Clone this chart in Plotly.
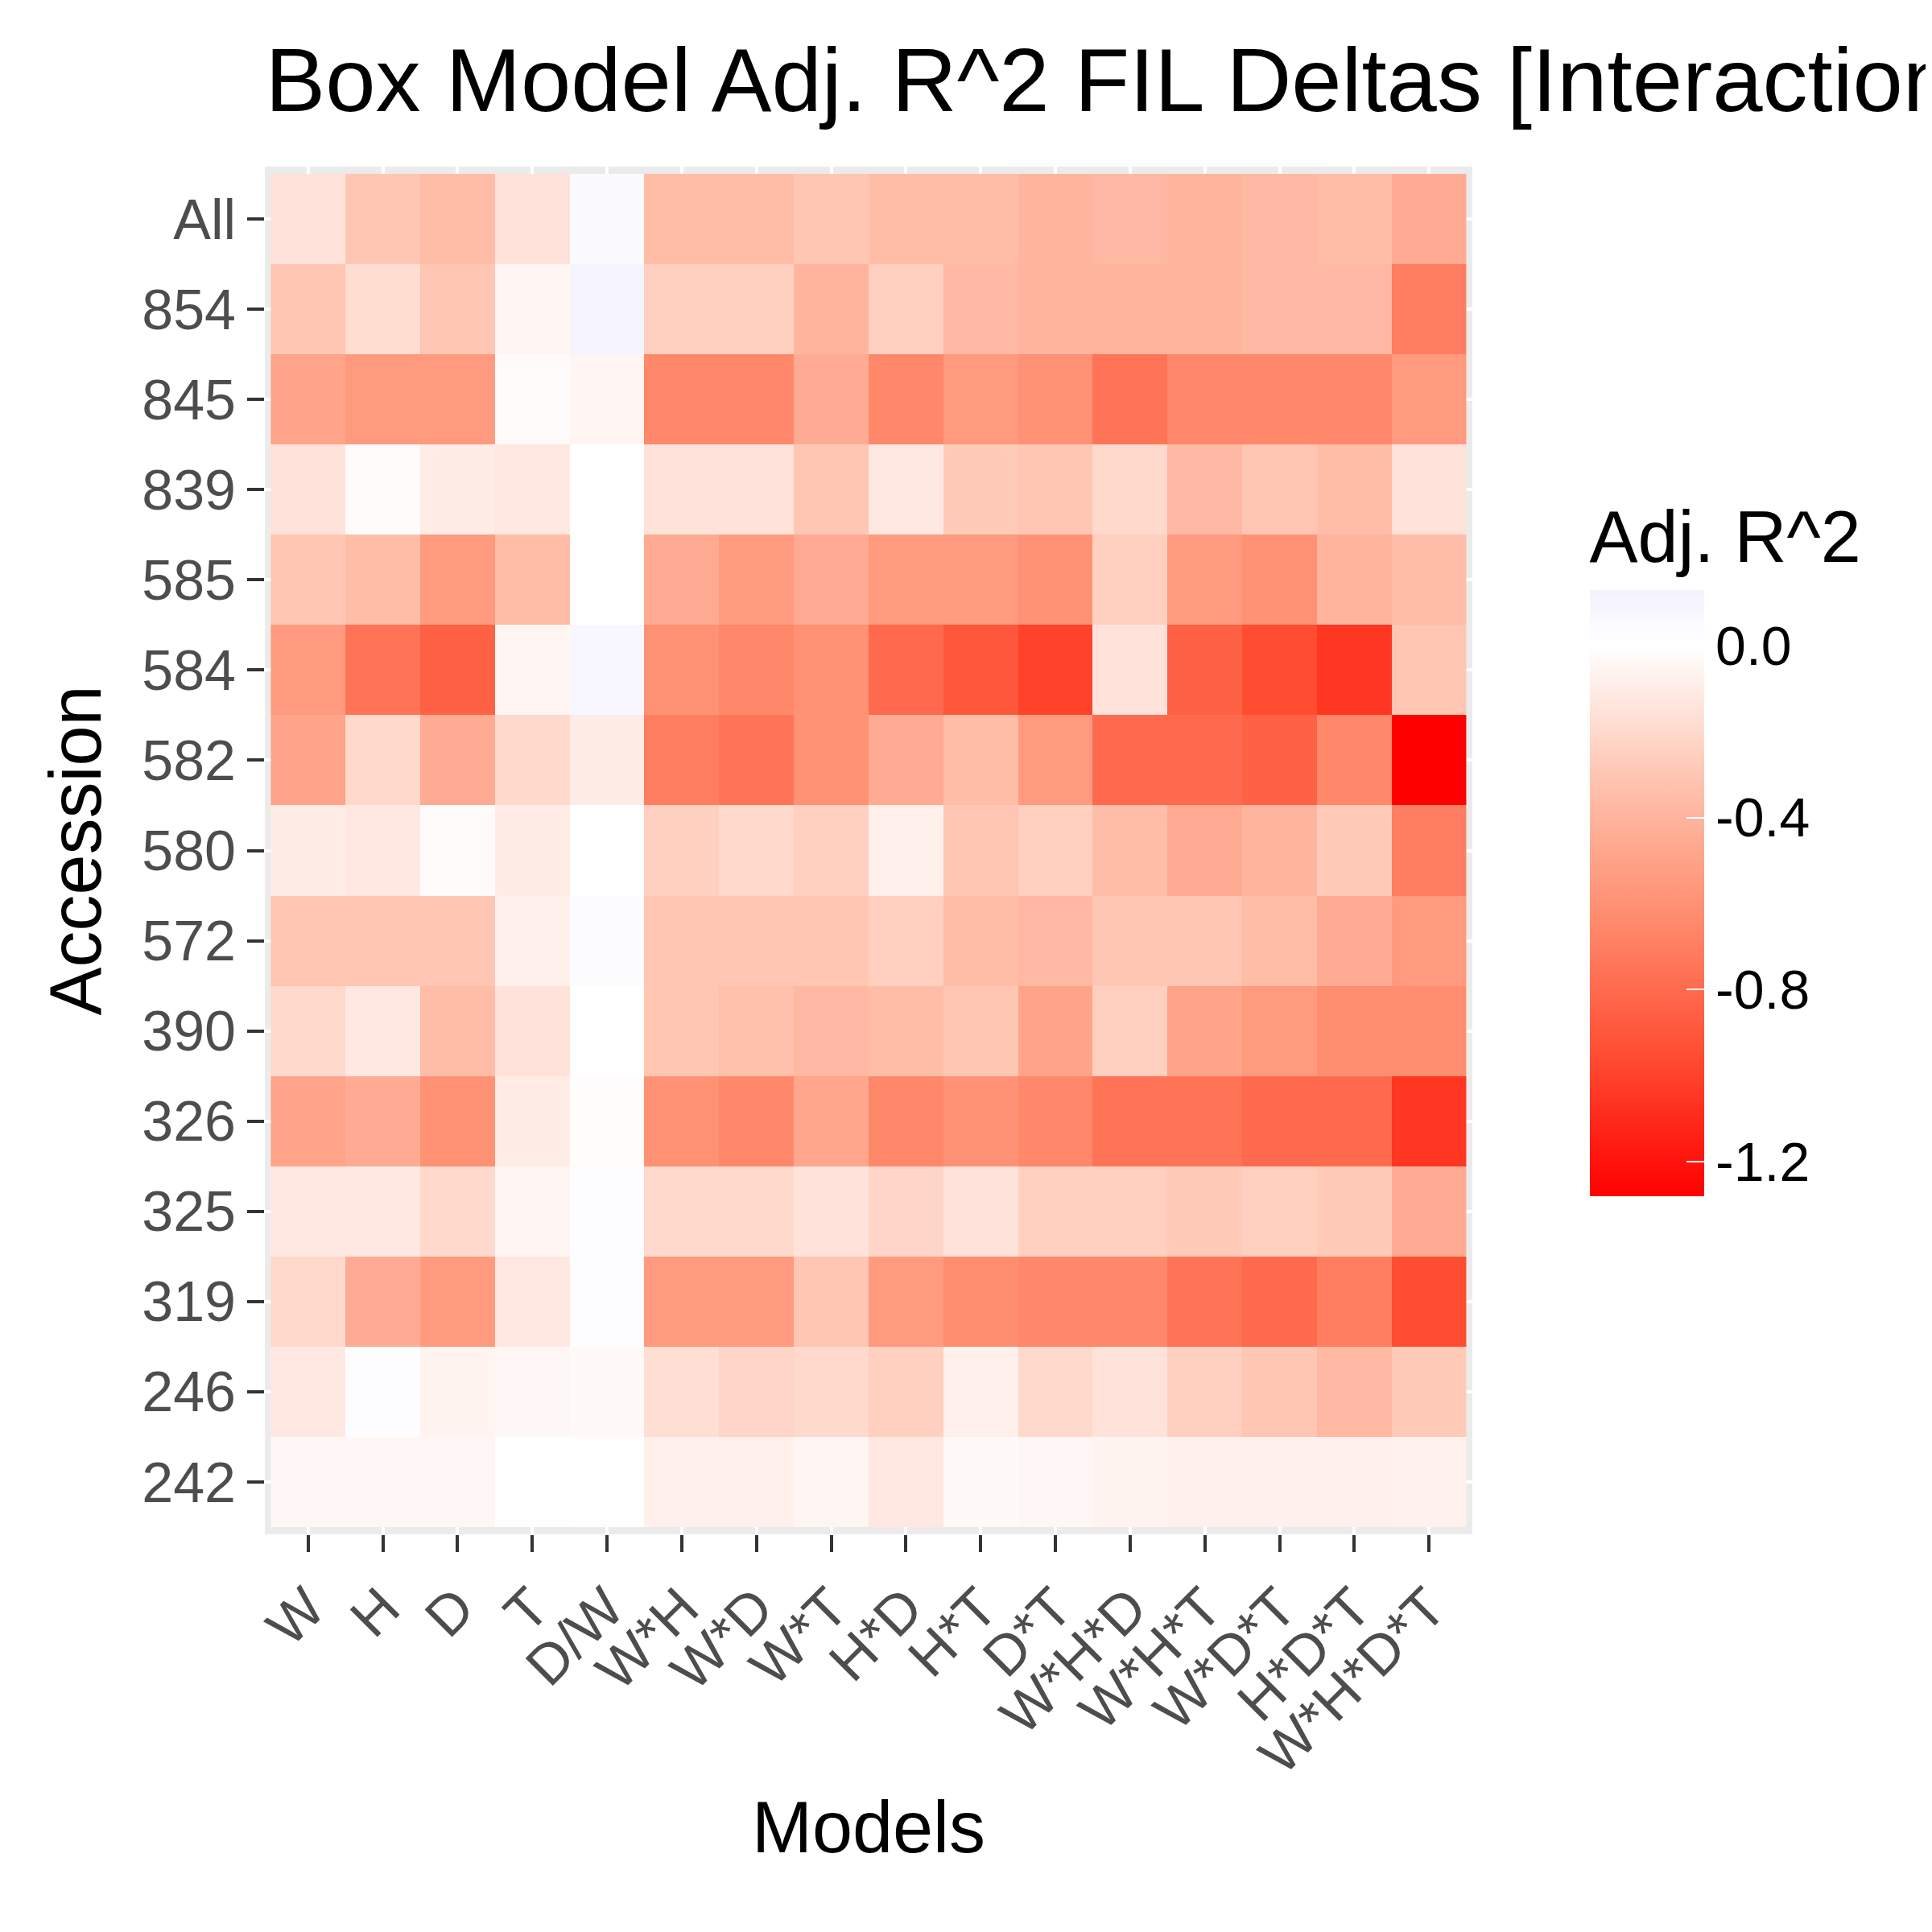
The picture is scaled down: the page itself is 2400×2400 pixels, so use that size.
import plotly.graph_objects as go

# Box model adj. R^2 deltas per accession (rows) and model (columns)
models = ["W", "H", "D", "T", "D/W", "W*H", "W*D", "W*T", "H*D", "H*T", "D*T",
          "W*H*D", "W*H*T", "W*D*T", "H*D*T", "W*H*D*T"]
accessions = ["All", "854", "845", "839", "585", "584", "582", "580", "572",
              "390", "326", "325", "319", "246", "242"]

r_all = [-0.15, -0.3, -0.35, -0.15, 0.05, -0.35, -0.35, -0.3, -0.35, -0.35, -0.4, -0.38, -0.4, -0.38, -0.35, -0.45]
r_854 = [-0.3, -0.18, -0.3, -0.05, 0.1, -0.25, -0.25, -0.4, -0.25, -0.38, -0.4, -0.4, -0.4, -0.38, -0.38, -0.7]
r_845 = [-0.5, -0.55, -0.55, -0.02, -0.05, -0.65, -0.65, -0.45, -0.65, -0.55, -0.6, -0.75, -0.65, -0.65, -0.65, -0.55]
r_839 = [-0.15, -0.02, -0.1, -0.12, 0.0, -0.15, -0.15, -0.3, -0.12, -0.28, -0.3, -0.2, -0.38, -0.3, -0.35, -0.15]
r_585 = [-0.3, -0.35, -0.55, -0.35, 0.0, -0.45, -0.55, -0.45, -0.55, -0.55, -0.6, -0.25, -0.55, -0.6, -0.4, -0.35]
r_584 = [-0.55, -0.75, -0.85, -0.05, 0.08, -0.6, -0.65, -0.6, -0.8, -0.9, -1.0, -0.15, -0.85, -0.95, -1.05, -0.3]
r_582 = [-0.5, -0.2, -0.45, -0.2, -0.1, -0.7, -0.75, -0.6, -0.45, -0.35, -0.55, -0.8, -0.8, -0.85, -0.65, -1.28]
r_580 = [-0.1, -0.12, -0.02, -0.1, 0.0, -0.25, -0.2, -0.25, -0.08, -0.3, -0.25, -0.35, -0.45, -0.4, -0.28, -0.7]
r_572 = [-0.3, -0.3, -0.3, -0.08, 0.03, -0.3, -0.3, -0.3, -0.25, -0.35, -0.38, -0.3, -0.3, -0.35, -0.45, -0.55]
r_390 = [-0.2, -0.12, -0.35, -0.15, 0.0, -0.3, -0.33, -0.38, -0.35, -0.3, -0.5, -0.25, -0.5, -0.55, -0.62, -0.62]
r_326 = [-0.5, -0.45, -0.6, -0.1, -0.01, -0.6, -0.65, -0.48, -0.65, -0.6, -0.65, -0.75, -0.75, -0.8, -0.8, -1.05]
r_325 = [-0.12, -0.12, -0.2, -0.05, 0.02, -0.2, -0.2, -0.15, -0.22, -0.15, -0.25, -0.25, -0.28, -0.25, -0.28, -0.45]
r_319 = [-0.2, -0.45, -0.55, -0.12, 0.02, -0.55, -0.55, -0.3, -0.55, -0.62, -0.65, -0.65, -0.75, -0.8, -0.7, -0.95]
r_246 = [-0.12, 0.02, -0.06, -0.04, -0.03, -0.17, -0.22, -0.2, -0.25, -0.08, -0.2, -0.15, -0.25, -0.3, -0.38, -0.28]
r_242 = [-0.04, -0.04, -0.04, 0.0, 0.01, -0.08, -0.08, -0.05, -0.12, -0.03, -0.04, -0.06, -0.08, -0.08, -0.08, -0.07]

z = [r_all, r_854, r_845, r_839, r_585, r_584, r_582, r_580, r_572,
     r_390, r_326, r_325, r_319, r_246, r_242]

zmin, zmax = -1.28, 0.13
mid = (0 - zmin) / (zmax - zmin)
colorscale = [
    [0.0, "#FF0000"],
    [mid * 0.25, "#FF4B30"],
    [mid * 0.5, "#FF8A6C"],
    [mid * 0.75, "#FFC2AE"],
    [mid, "#FFFFFF"],
    [1.0, "#F3F2FF"],
]

fig = go.Figure(go.Heatmap(
    z=z, x=models, y=accessions, zmin=zmin, zmax=zmax,
    colorscale=colorscale, xgap=0, ygap=0,
    colorbar=dict(
        title=dict(text="Adj. R^2", side="top", font=dict(size=90, color="black")),
        thickness=142, len=0.505, lenmode="fraction", y=0.50, yanchor="middle",
        x=1.097, xanchor="left", xpad=0, ypad=0, outlinewidth=0,
        tickvals=[0.0, -0.4, -0.8, -1.2], ticktext=["0.0", "-0.4", "-0.8", "-1.2"],
        tickprefix="  ",
        ticks="inside", ticklen=22, tickcolor="white", tickwidth=2,
        tickfont=dict(size=68, color="black"),
    ),
))

fig.update_layout(
    width=2400, height=2400,
    margin=dict(l=321, r=579, t=199, b=502),
    paper_bgcolor="white", plot_bgcolor="#EBEBEB",
    font=dict(family="Liberation Sans, Arial"),
    title=dict(text="Box Model Adj. R^2 FIL Deltas [Interactions]", x=0.134, xanchor="left",
               y=0.962, yanchor="middle", font=dict(size=112, color="black")),
    xaxis=dict(title=dict(text="Models", font=dict(size=90, color="black"), standoff=20),
               range=[-0.58, 15.58], tickangle=-45, ticks="outside", ticklen=21, tickwidth=4,
               tickcolor="#333333", tickfont=dict(size=70, color="#4D4D4D"),
               showgrid=True, gridcolor="white", gridwidth=4, zeroline=False),
    yaxis=dict(title=dict(text="Accession", font=dict(size=90, color="black"), standoff=20),
               autorange=False, range=[14.58, -0.58], categoryorder="array", categoryarray=accessions,
               ticks="outside", ticklen=21, tickwidth=4, tickcolor="#333333",
               tickfont=dict(size=70, color="#4D4D4D"),
               showgrid=True, gridcolor="white", gridwidth=4, zeroline=False),
)

fig.write_html("out.html")
